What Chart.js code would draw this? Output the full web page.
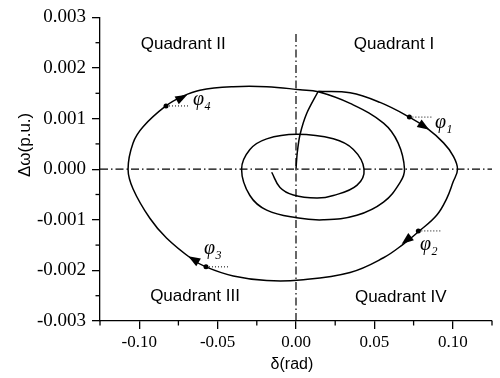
<!DOCTYPE html>
<html>
<head>
<meta charset="utf-8">
<script src="https://cdn.jsdelivr.net/npm/chart.js@4.4.0/dist/chart.umd.min.js"></script>
<style>
  html, body { margin: 0; padding: 0; background: #fff; }
  #wrap { width: 500px; height: 378px; }
</style>
</head>
<body>
<div id="wrap"><canvas id="phaseChart" width="500" height="378"></canvas></div>
<script>
// phase plane: rotor angle deviation vs speed deviation

// fault-on path, origin -> clearing point
var faultDelta = [0, 0.0008, 0.00255, 0.0068, 0.0142];
var faultOmega = [0, 0.000325, 0.00068, 0.0011, 0.00154];

// post-fault spiral (clockwise)
var postDelta = [0.0142, 0.0345, 0.0536, 0.0723, 0.0835, 0.0941, 0.1001, 0.103,
  0.1001, 0.0961, 0.0897, 0.0787, 0.0685, 0.0558, 0.0345, 0.0026, -0.0187, -0.04, -0.0575,
  -0.0666, -0.0826, -0.0932, -0.1039, -0.1071, -0.1039, -0.0975, -0.083, -0.073,
  -0.0613, -0.04, -0.0187, 0.0026, 0.0142, 0.0345, 0.0558, 0.0651, 0.0692, 0.0664,
  0.0558, 0.0388, 0.0174, 0.0004, -0.0187, -0.0294, -0.0347, -0.0294, -0.0187,
  0.0004, 0.0238, 0.0366, 0.0434, 0.0388, 0.0238, 0.0132, -0.0017, -0.0102, -0.0155];
var postOmega = [0.00154, 0.00151, 0.00132, 0.00103, 0.00081, 0.00052, 0.00027, 0,
  -0.00026, -0.00058, -0.00091, -0.00122, -0.00148, -0.00175, -0.00204, -0.00219, -0.0022, -0.00211, -0.00193,
  -0.00177, -0.00136, -0.00097, -0.00039, 0, 0.00052, 0.00084, 0.00125, 0.00143,
  0.00156, 0.00163, 0.00163, 0.00157, 0.00153, 0.0013, 0.00091, 0.00052, 0, -0.00026,
  -0.00065, -0.00091, -0.001, -0.00096, -0.00081, -0.00052, 0, 0.00039, 0.0006,
  0.00069, 0.0006, 0.00039, 0, -0.00032, -0.00052, -0.00057, -0.00051, -0.00036, -0.00006];

// phi markers: dot, arrow tip, end of dotted leader, label anchor
var dotDelta = [0.0723, 0.078, -0.0574, -0.0829];
var dotOmega = [0.00103, -0.00122, -0.00193, 0.00125];
var arrowDelta = [0.085, 0.0674, -0.0687, -0.0693];
var arrowOmega = [0.00078, -0.00148, -0.00172, 0.00147];
var leaderEnd = [0.0866, 0.0929, -0.0432, -0.0676];
var phiIndex = ['1', '2', '3', '4'];
var phiDelta = [0.0886, 0.0791, -0.0587, -0.0657];
var phiOmega = [0.00081, -0.0016, -0.00168, 0.00126];

var quadNames = ['Quadrant I', 'Quadrant II', 'Quadrant III', 'Quadrant IV'];
var quadDelta = [0.0625, -0.0719, -0.0644, 0.0668];
var quadOmega = [0.00246, 0.00246, -0.00252, -0.00253];

var xTicks = [-0.10, -0.05, 0, 0.05, 0.10];
var xMinor = [-0.125, -0.075, -0.025, 0.025, 0.075, 0.125];
var yTicks = [-0.003, -0.002, -0.001, 0, 0.001, 0.002, 0.003];
var yMinor = [-0.0025, -0.0015, -0.0005, 0.0005, 0.0015, 0.0025];

function pts(xs, ys) {
  return xs.map(function (x, i) { return { x: x, y: ys[i] }; });
}

var serif = "'Liberation Serif', 'Times New Roman', serif";
var sans = "'Liberation Sans', Arial, sans-serif";

var annotate = {
  id: 'annotate',
  afterDraw: function (chart) {
    var c = chart.ctx, xs = chart.scales.x, ys = chart.scales.y, a = chart.chartArea;
    c.save();
    c.strokeStyle = '#000';
    c.fillStyle = '#000';
    c.lineWidth = 1.3;

    // minor ticks
    xMinor.forEach(function (v) {
      var px = xs.getPixelForValue(v);
      c.beginPath(); c.moveTo(px, a.bottom); c.lineTo(px, a.bottom + 4.5); c.stroke();
    });
    yMinor.forEach(function (v) {
      var py = ys.getPixelForValue(v);
      c.beginPath(); c.moveTo(a.left, py); c.lineTo(a.left - 4.5, py); c.stroke();
    });

    // arrowheads, pointing from dot towards tip
    arrowDelta.forEach(function (v, i) {
      var tx = xs.getPixelForValue(v), ty = ys.getPixelForValue(arrowOmega[i]);
      var dx = tx - xs.getPixelForValue(dotDelta[i]), dy = ty - ys.getPixelForValue(dotOmega[i]);
      var len = Math.sqrt(dx * dx + dy * dy);
      dx /= len; dy /= len;
      var bx = tx - dx * 12, by = ty - dy * 12;
      c.beginPath();
      c.moveTo(tx, ty);
      c.lineTo(bx - dy * 4.5, by + dx * 4.5);
      c.lineTo(bx + dy * 4.5, by - dx * 4.5);
      c.closePath();
      c.fill();
    });

    // quadrant labels
    c.font = '17px ' + sans;
    c.textAlign = 'center';
    c.textBaseline = 'middle';
    quadNames.forEach(function (t, i) {
      c.fillText(t, xs.getPixelForValue(quadDelta[i]), ys.getPixelForValue(quadOmega[i]));
    });

    // phi labels with subscripts
    c.textAlign = 'left';
    c.textBaseline = 'alphabetic';
    phiIndex.forEach(function (s, i) {
      var px = xs.getPixelForValue(phiDelta[i]), py = ys.getPixelForValue(phiOmega[i]);
      c.font = 'italic 20px ' + serif;
      c.fillText('\u03C6', px, py);
      var w = c.measureText('\u03C6').width;
      c.font = 'italic 12px ' + serif;
      c.fillText(s, px + w + 0.5, py + 5);
    });

    // axis titles
    c.font = '16px ' + sans;
    c.textAlign = 'center';
    c.textBaseline = 'middle';
    c.fillText('\u03B4(rad)', xs.getPixelForValue(-0.0026), a.bottom + 44);
    c.font = '17px ' + sans;
    c.translate(a.left - 75, ys.getPixelForValue(0.00048));
    c.rotate(-Math.PI / 2);
    c.fillText('\u0394\u03C9(p.u.)', 0, 0);
    c.restore();
  }
};

var blackLine = {
  showLine: true,
  borderColor: '#000',
  borderWidth: 1.5,
  pointRadius: 0,
  fill: false
};

function lineSet(data, extra) {
  return Object.assign({ data: data }, blackLine, extra || {});
}

var leaders = dotDelta.map(function (v, i) {
  return lineSet([{ x: v, y: dotOmega[i] }, { x: leaderEnd[i], y: dotOmega[i] }],
    { borderWidth: 1, borderDash: [1, 2] });
});

new Chart(document.getElementById('phaseChart'), {
  type: 'scatter',
  data: {
    datasets: [
      lineSet(pts([-0.125, 0.125], [0, 0]), { borderWidth: 1.2, borderDash: [8, 3, 1.5, 3] }),
      lineSet(pts([0, 0], [-0.003, 0.0027]), { borderWidth: 1.2, borderDash: [8, 3, 1.5, 3] }),
      lineSet(pts(faultDelta, faultOmega), { tension: 0.3 }),
      lineSet(pts(postDelta, postOmega), { tension: 0.4 })
    ].concat(leaders).concat([{
      data: pts(dotDelta, dotOmega),
      pointRadius: 2.5,
      pointBackgroundColor: '#000',
      pointBorderWidth: 0,
      showLine: false
    }])
  },
  options: {
    responsive: false,
    animation: false,
    events: [],
    layout: { padding: { top: 12, right: 8, left: 0, bottom: 0 } },
    plugins: {
      legend: { display: false },
      tooltip: { enabled: false }
    },
    scales: {
      x: {
        type: 'linear',
        min: -0.125,
        max: 0.125,
        afterFit: function (scale) { scale.height = 57; },
        afterBuildTicks: function (scale) {
          scale.ticks = xTicks.map(function (v) { return { value: v }; });
        },
        border: { display: true, color: '#000', width: 1.3 },
        grid: { display: true, drawOnChartArea: false, tickLength: 8, tickColor: '#000', lineWidth: 1.3 },
        ticks: {
          color: '#000',
          padding: 3,
          maxRotation: 0,
          font: { family: serif, size: 17 },
          callback: function (v) { return v.toFixed(2); }
        }
      },
      y: {
        type: 'linear',
        min: -0.003,
        max: 0.003,
        afterFit: function (scale) { scale.width = 100; },
        afterBuildTicks: function (scale) {
          scale.ticks = yTicks.map(function (v) { return { value: v }; });
        },
        border: { display: true, color: '#000', width: 1.3 },
        grid: { display: true, drawOnChartArea: false, tickLength: 8, tickColor: '#000', lineWidth: 1.3 },
        ticks: {
          color: '#000',
          padding: 6,
          font: { family: serif, size: 19 },
          callback: function (v) { return v.toFixed(3); }
        }
      }
    }
  },
  plugins: [annotate]
});
</script>
</body>
</html>
